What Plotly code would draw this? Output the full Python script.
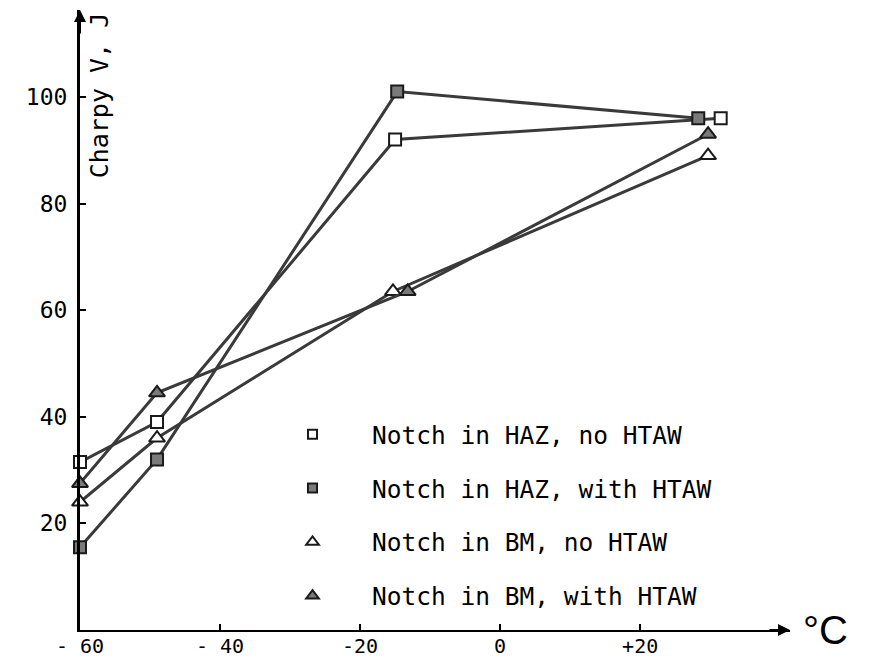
import plotly.graph_objects as go

# ---- data (against the drawn axis labels) ----
x_haz_no = [-60, -49, -15.0, 31.5]
y_haz_no = [31.5, 39.0, 92.0, 96.0]

x_haz_with = [-60, -49, -14.7, 28.3]
y_haz_with = [15.5, 32.0, 101.0, 96.0]

x_bm_no = [-60, -49, -15.3, 29.7]
y_bm_no = [24.0, 36.0, 63.5, 89.0]

x_bm_with = [-60, -49, -13.2, 29.7]
y_bm_with = [27.5, 44.5, 63.5, 93.0]

labels = ["Notch in HAZ, no HTAW", "Notch in HAZ, with HTAW",
          "Notch in BM, no HTAW", "Notch in BM, with HTAW"]

x_tickvals = [-60, -40, -20, 0, 20]
x_ticktext = ["- 60", "- 40", "-20", "0", "+20"]
y_tickvals = [20, 40, 60, 80, 100]
y_ticktext = ["20", "40", "60", "80", "100"]

LINE = "#3a3a3a"
EDGE = "#1a1a1a"
FILL = "#7a7a7a"
FONT = "DejaVu Sans Mono"

series = [
    (x_haz_no, y_haz_no, "square", "white", 12),
    (x_haz_with, y_haz_with, "square", FILL, 12),
    (x_bm_no, y_bm_no, "triangle-up", "white", 14),
    (x_bm_with, y_bm_with, "triangle-up", FILL, 14),
]

fig = go.Figure()
for (xs, ys, sym, fill, size), name in zip(series, labels):
    fig.add_trace(go.Scatter(
        x=xs, y=ys, mode="lines+markers", showlegend=False, cliponaxis=False,
        line=dict(color=LINE, width=3),
        marker=dict(symbol=sym, size=size, color=fill, line=dict(color=EDGE, width=2)),
    ))
# legend entries (markers only)
for i, ((xs, ys, sym, fill, size), name) in enumerate(zip(series, labels)):
    fig.add_trace(go.Scatter(
        x=[None], y=[None], mode="markers", name=name, legendgroup=str(i),
        marker=dict(symbol=sym, size=size - 3, color=fill, line=dict(color=EDGE, width=2)),
    ))

fig.update_layout(
    width=875, height=659,
    margin=dict(l=80, r=85, t=10, b=29),
    paper_bgcolor="white", plot_bgcolor="white",
    font=dict(family=FONT, size=22, color="black"),
    showlegend=True,
    legend=dict(x=0.2437, y=0.352, xanchor="left", yanchor="top",
                bgcolor="rgba(0,0,0,0)", font=dict(family=FONT, size=24.5),
                itemwidth=109, tracegroupgap=19),
    xaxis=dict(range=[-60, 41.4], showgrid=False, zeroline=False, automargin=False,
               showline=True, linecolor="black", linewidth=2,
               ticks="inside", ticklen=6, tickwidth=1.5, tickcolor="black",
               tickvals=x_tickvals, ticktext=x_ticktext, ticklabelstandoff=-3,
               tickfont=dict(family=FONT, size=20)),
    yaxis=dict(range=[0, 116.3], showgrid=False, zeroline=False, automargin=False,
               showline=True, linecolor="black", linewidth=3,
               ticks="inside", ticklen=6, tickwidth=1.5, tickcolor="black",
               tickvals=y_tickvals, ticktext=y_ticktext, ticklabelstandoff=5,
               tickfont=dict(family=FONT, size=23)),
)

# axis arrows
fig.add_annotation(x=1, y=0, xref="paper", yref="paper", ax=-22, ay=0,
                   showarrow=True, arrowhead=2, arrowsize=1.2, arrowwidth=2,
                   arrowcolor="black", text="")
fig.add_annotation(x=0, y=1, xref="paper", yref="paper", ax=0, ay=25,
                   showarrow=True, arrowhead=2, arrowsize=1.2, arrowwidth=2,
                   arrowcolor="black", text="")
# axis titles
fig.add_annotation(x=0.004, y=1.0, xref="paper", yref="paper", xanchor="left",
                   yanchor="top", text="Charpy V, J", textangle=-90, showarrow=False,
                   font=dict(family=FONT, size=25))
fig.add_annotation(x=1.015, y=0, xref="paper", yref="paper", xanchor="left",
                   yanchor="middle", text="°C", showarrow=False,
                   font=dict(family="Liberation Sans", size=40))

fig.write_html("out.html")
